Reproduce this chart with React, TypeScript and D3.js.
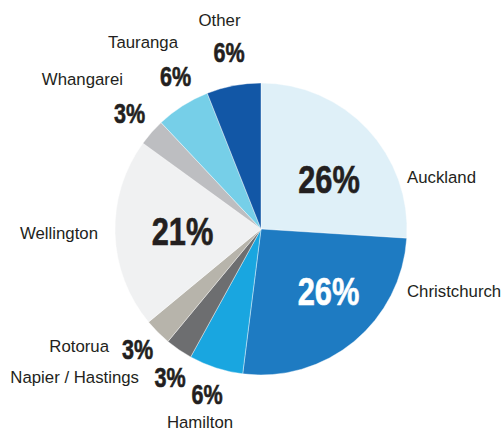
import React from "react";
import * as d3 from "d3";

const cities = ["Auckland", "Christchurch", "Hamilton", "Napier / Hastings", "Rotorua", "Wellington", "Whangarei", "Tauranga", "Other"];
const shares = [26, 26, 6, 3, 3, 21, 3, 6, 6];
const colors = ["#dff0f8", "#1e7bc2", "#19a6e0", "#6d6e70", "#b7b4ab", "#f0f1f2", "#bdbec1", "#76cfe8", "#1257a6"];

// label layout (text anchors), keyed by index
const nameLayout = [
  { x: 407, y: 183, anchor: "start" },
  { x: 407, y: 297, anchor: "start" },
  { x: 200, y: 428, anchor: "middle" },
  { x: 139, y: 383, anchor: "end" },
  { x: 109, y: 352, anchor: "end" },
  { x: 98, y: 239, anchor: "end" },
  { x: 123, y: 85, anchor: "end" },
  { x: 143, y: 48, anchor: "middle" },
  { x: 219.5, y: 26, anchor: "middle" },
];
const pctLayout = [
  { x: 329, y: 193, big: true, color: "#231f20" },
  { x: 328.5, y: 305, big: true, color: "#ffffff" },
  { x: 207, y: 404, big: false, color: "#231f20" },
  { x: 170, y: 387, big: false, color: "#231f20" },
  { x: 137.5, y: 359, big: false, color: "#231f20" },
  { x: 182.5, y: 245, big: true, color: "#231f20" },
  { x: 129.5, y: 123, big: false, color: "#231f20" },
  { x: 175.5, y: 86, big: false, color: "#231f20" },
  { x: 229, y: 62, big: false, color: "#231f20" },
];

const W = 504, H = 433;
const cx = 261, cy = 229, R = 146;

export default function App() {
  const pie = d3.pie<number>().sort(null).value((d) => d)(shares);
  const arc = d3.arc<d3.PieArcDatum<number>>().innerRadius(0).outerRadius(R);
  return (
    <svg width={W} height={H} style={{ position: "absolute", left: 0, top: 0, display: "block", background: "#fff" }}>
      <g transform={`translate(${cx},${cy})`}>
        {pie.map((p, i) => (
          <path key={i} d={arc(p) || ""} fill={colors[i]} stroke="#ffffff" strokeWidth={0.4} />
        ))}
      </g>
      {cities.map((c, i) => (
        <text key={"n" + i} x={nameLayout[i].x} y={nameLayout[i].y} textAnchor={nameLayout[i].anchor as any}
          fontFamily="'Liberation Sans', Arial, sans-serif" fontSize={16.8} fill="#231f20">{c}</text>
      ))}
      {shares.map((s, i) => (
        <text key={"p" + i} transform={`translate(${pctLayout[i].x},${pctLayout[i].y}) scale(${pctLayout[i].big ? 0.81 : 0.77},1)`}
          x={0} y={0} textAnchor="middle"
          fontFamily="'Liberation Sans', Arial, sans-serif" fontWeight="bold" fontSize={pctLayout[i].big ? 38 : 28}
          stroke={pctLayout[i].color} strokeWidth={0.6} fill={pctLayout[i].color}>{s}%</text>
      ))}
    </svg>
  );
}
